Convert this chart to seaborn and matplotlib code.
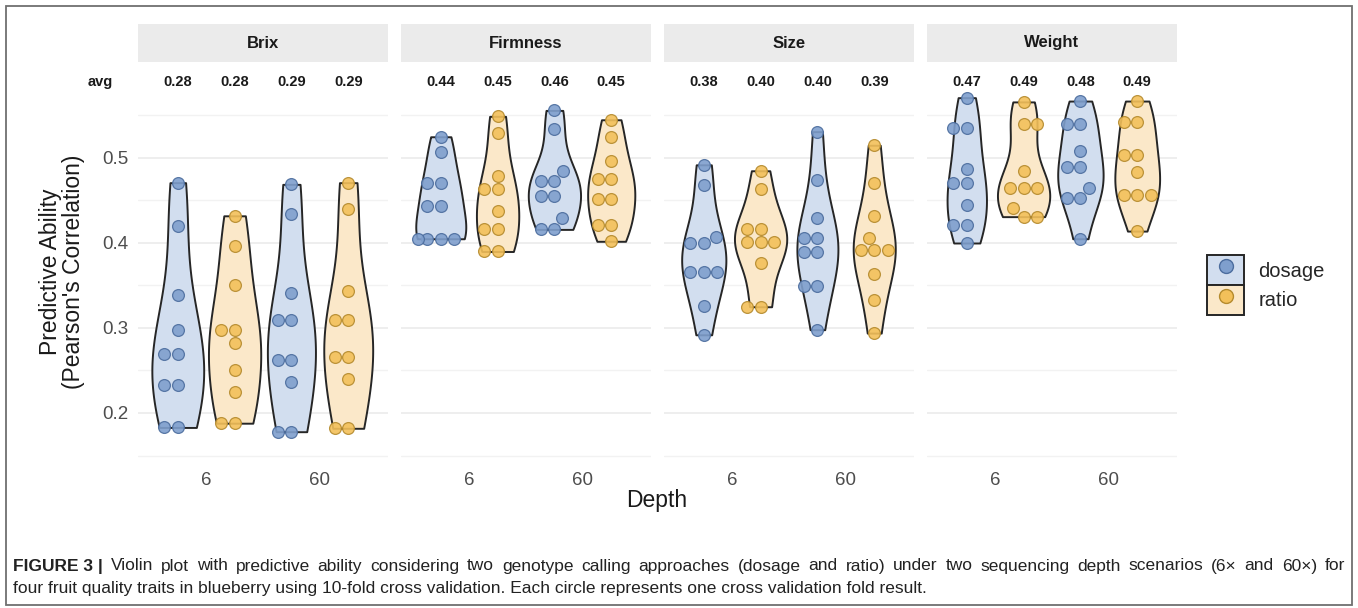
import numpy as np
import pandas as pd
import seaborn as sns
import matplotlib.pyplot as plt
from matplotlib.patches import Rectangle, Patch
from matplotlib.lines import Line2D

traits = ["Brix", "Firmness", "Size", "Weight"]
depths = ["6", "60"]
methods = ["dosage", "ratio"]

# predictive ability of each of the 10 CV folds
brix_dosage_6 = [0.471, 0.420, 0.339, 0.298, 0.269, 0.269, 0.233, 0.233, 0.183, 0.183]
brix_ratio_6 = [0.432, 0.396, 0.351, 0.298, 0.298, 0.282, 0.251, 0.225, 0.188, 0.188]
brix_dosage_60 = [0.469, 0.434, 0.341, 0.309, 0.309, 0.262, 0.262, 0.236, 0.178, 0.178]
brix_ratio_60 = [0.471, 0.440, 0.343, 0.309, 0.309, 0.266, 0.266, 0.240, 0.182, 0.182]

firm_dosage_6 = [0.525, 0.507, 0.471, 0.471, 0.443, 0.443, 0.405, 0.405, 0.405, 0.405]
firm_ratio_6 = [0.549, 0.529, 0.479, 0.463, 0.463, 0.438, 0.417, 0.417, 0.390, 0.390]
firm_dosage_60 = [0.556, 0.534, 0.485, 0.473, 0.473, 0.455, 0.455, 0.429, 0.416, 0.416]
firm_ratio_60 = [0.545, 0.525, 0.496, 0.475, 0.475, 0.452, 0.452, 0.421, 0.421, 0.402]

size_dosage_6 = [0.492, 0.468, 0.407, 0.400, 0.400, 0.366, 0.366, 0.366, 0.326, 0.292]
size_ratio_6 = [0.485, 0.463, 0.417, 0.417, 0.401, 0.401, 0.401, 0.376, 0.325, 0.325]
size_dosage_60 = [0.531, 0.474, 0.429, 0.406, 0.406, 0.389, 0.389, 0.349, 0.349, 0.298]
size_ratio_60 = [0.515, 0.471, 0.432, 0.406, 0.392, 0.392, 0.392, 0.364, 0.333, 0.294]

weight_dosage_6 = [0.571, 0.535, 0.535, 0.487, 0.470, 0.470, 0.445, 0.421, 0.421, 0.400]
weight_ratio_6 = [0.566, 0.540, 0.540, 0.485, 0.465, 0.465, 0.465, 0.441, 0.431, 0.431]
weight_dosage_60 = [0.567, 0.540, 0.540, 0.508, 0.489, 0.489, 0.465, 0.453, 0.453, 0.405]
weight_ratio_60 = [0.567, 0.542, 0.542, 0.503, 0.503, 0.484, 0.456, 0.456, 0.456, 0.414]

# averages printed above each violin
avg_brix = ["0.28", "0.28", "0.29", "0.29"]
avg_firmness = ["0.44", "0.45", "0.46", "0.45"]
avg_size = ["0.38", "0.40", "0.40", "0.39"]
avg_weight = ["0.47", "0.49", "0.48", "0.49"]

series = {
    "Brix": [brix_dosage_6, brix_ratio_6, brix_dosage_60, brix_ratio_60],
    "Firmness": [firm_dosage_6, firm_ratio_6, firm_dosage_60, firm_ratio_60],
    "Size": [size_dosage_6, size_ratio_6, size_dosage_60, size_ratio_60],
    "Weight": [weight_dosage_6, weight_ratio_6, weight_dosage_60, weight_ratio_60],
}
avgs = {"Brix": avg_brix, "Firmness": avg_firmness, "Size": avg_size, "Weight": avg_weight}

slots = [f"{d}_{m}" for d in depths for m in methods]
rows = []
for t in traits:
    for slot, vals in zip(slots, series[t]):
        d, m = slot.split("_")
        for v in vals:
            rows.append({"trait": t, "slot": slot, "Depth": d, "method": m, "value": v})
df = pd.DataFrame(rows)

fill_col = {"dosage": "#d2deef", "ratio": "#fbe8c9"}
pt_col = {"dosage": "#7f9fcd", "ratio": "#f3c05a"}
pt_edge = {"dosage": "#4c6d9e", "ratio": "#b58b2e"}

sns.set_style("white")
plt.rcParams["font.family"] = ["Liberation Sans", "DejaVu Sans"]

W, H = 1358, 608
fig = plt.figure(figsize=(W / 100, H / 100), dpi=100)


def box(x, y, w, h):
    return [x / W, 1 - (y + h) / H, w / W, h / H]


panel_left = [138, 401, 664, 927]
panel_w = 250
ax_top, ax_bot = 62, 462
# y pixel -> value mapping: 0.5 at y=158, 0.1 per 85 px
ylim = (0.5 - (ax_bot - 158) / 850, 0.5 + (158 - ax_top) / 850)

for i, t in enumerate(traits):
    ax = fig.add_axes(box(panel_left[i], ax_top, panel_w, ax_bot - ax_top))
    sub = df[df["trait"] == t]
    sns.violinplot(data=sub, x="slot", y="value", hue="method", order=slots,
                   hue_order=methods, palette=fill_col, dodge=False, saturation=1,
                   cut=0, inner=None, density_norm="area", common_norm=True,
                   bw_method="silverman", bw_adjust=0.9, width=0.92,
                   linecolor="#262626", linewidth=1.4, legend=False, ax=ax)
    for m in methods:
        sns.swarmplot(data=sub[sub["method"] == m], x="slot", y="value", order=slots,
                      color=pt_col[m], edgecolor=pt_edge[m], linewidth=0.9,
                      size=8.5, alpha=0.9, ax=ax)
    ax.set_xlim(-0.7, 3.7)
    ax.set_ylim(*ylim)
    ax.set_yticks([0.2, 0.3, 0.4, 0.5])
    ax.set_yticks([0.15, 0.25, 0.35, 0.45, 0.55], minor=True)
    ax.grid(True, axis="y", which="major", color="#ebebeb", lw=1.2)
    ax.grid(True, axis="y", which="minor", color="#f2f2f2", lw=1.0)
    ax.grid(False, axis="x")
    ax.set_axisbelow(True)
    centers = [np.mean([k for k, s in enumerate(slots) if s.startswith(d + "_")]) for d in depths]
    ax.set_xticks(centers, depths)
    ax.tick_params(axis="x", length=4, width=1.2, color="#333333", labelsize=13.5,
                   labelcolor="#4d4d4d", pad=3)
    ax.tick_params(axis="y", which="major", length=4, width=1.2, color="#333333",
                   labelsize=13.5, labelcolor="#4d4d4d", pad=3)
    ax.tick_params(axis="y", which="minor", length=0)
    if i > 0:
        ax.tick_params(axis="y", which="major", length=0, labelleft=False)
    else:
        ax.set_yticklabels(["0.2", "0.3", "0.4", "0.5"])
    ax.set_xlabel("")
    ax.set_ylabel("")
    for sp in ax.spines.values():
        sp.set_visible(False)

    for k, lab in enumerate(avgs[t]):
        ax.text(k, 0.5 + (158 - 82) / 850, lab, ha="center", va="center",
                fontsize=10.5, fontweight="bold", color="#1a1a1a")

    # facet strip
    fig.patches.append(Rectangle((panel_left[i] / W, 1 - 62 / H), panel_w / W, 38 / H,
                                 transform=fig.transFigure, fc="#ebebeb", ec="none"))
    fig.text((panel_left[i] + panel_w / 2) / W, 1 - 43 / H, t, ha="center", va="center",
             fontsize=12, fontweight="bold", color="#1a1a1a")

fig.text(100 / W, 1 - 82 / H, "avg", ha="center", va="center", fontsize=10.5,
         fontweight="bold", color="#1a1a1a")

fig.text(62 / W, 1 - 272 / H, "Predictive Ability\n(Pearson's Correlation)",
         rotation=90, ha="center", va="center", fontsize=16.5, color="#1a1a1a",
         linespacing=1.0)
fig.text(657 / W, 1 - 500 / H, "Depth", ha="center", va="center", fontsize=16.5,
         color="#1a1a1a")

handles = [(Patch(fc=fill_col[m], ec="#262626", lw=1.4),
            Line2D([], [], marker="o", ls="", mfc=pt_col[m], mec=pt_edge[m], ms=10, mew=1.0))
           for m in methods]
fig.legend(handles=handles, labels=methods, loc="center left",
           bbox_to_anchor=(1207 / W, 1 - 285 / H), frameon=False, fontsize=14.5,
           handlelength=1.84, handleheight=1.89, labelspacing=0.0, handletextpad=0.7,
           borderpad=0, borderaxespad=0)

# caption, first line justified like the journal layout
r = fig.canvas.get_renderer()
cap_x0, cap_x1 = 13, 1345
line1 = ("Violin plot with predictive ability considering two genotype calling approaches "
         "(dosage and ratio) under two sequencing depth scenarios (6\u00d7 and 60\u00d7) for")
pieces = [fig.text(0, 1 - 566 / H, "FIGURE 3 |", ha="left", va="center",
                   fontsize=12.5, fontweight="bold", color="#222222")]
for w in line1.split(" "):
    pieces.append(fig.text(0, 1 - 566 / H, w, ha="left", va="center",
                           fontsize=12.5, color="#222222"))
widths = [p.get_window_extent(renderer=r).width for p in pieces]
gap = (cap_x1 - cap_x0 - sum(widths)) / (len(pieces) - 1)
xpos = cap_x0
for p, wd in zip(pieces, widths):
    p.set_x(xpos / W)
    xpos += wd + gap
fig.text(cap_x0 / W, 1 - 588 / H,
         "four fruit quality traits in blueberry using 10-fold cross validation. "
         "Each circle represents one cross validation fold result.",
         ha="left", va="center", fontsize=12.5, color="#222222")

fig.patches.append(Rectangle((6 / W, 1 - 605 / H), 1346 / W, 599 / H,
                             transform=fig.transFigure, fill=False, ec="#707070", lw=1.3))

fig.savefig("out.png", dpi=100)
